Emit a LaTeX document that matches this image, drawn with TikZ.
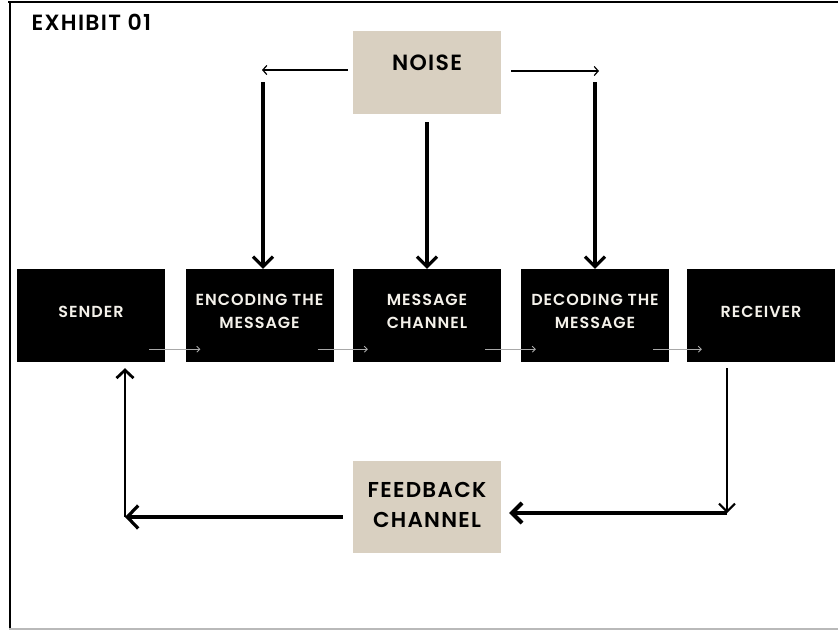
\documentclass[tikz,border=0pt]{standalone}
\usepackage{fontspec}
\setmainfont{Poppins}
\newfontfamily\boxfont{Poppins SemiBold}[LetterSpace=6]
\usetikzlibrary{arrows.meta}

\definecolor{sand}{HTML}{D9D0C1}
\definecolor{paper}{HTML}{F4F1EA}
\definecolor{faint}{HTML}{A8A8A8}

\begin{document}
\begin{tikzpicture}[x=1pt,y=-1pt,
  blk/.style={fill=black, minimum width=148pt, minimum height=93pt, inner sep=0pt},
  sandbox/.style={fill=sand, minimum width=148pt, inner sep=0pt},
  wlbl/.style={text=paper, align=center, font=\boxfont\fontsize{16}{23}\selectfont},
  dlbl/.style={text=black, align=center, font=\boxfont\fontsize{22}{30}\selectfont},
  big/.style={-{Straight Barb[length=10pt,width=20pt]}, line width=3.2pt},
  thin/.style={-{Straight Barb[length=4pt,width=9pt]}, line width=1.2pt},
  faintarr/.style={-{Straight Barb[length=3pt,width=6pt]}, draw=faint, line width=0.8pt}]
  \useasboundingbox (0,0) rectangle (838,630);
  % frame
  \draw [line width=2.2pt] (8,2) -- (838,2);
  \draw [line width=2pt] (9.5,1) -- (9.5,630);
  \draw [gray!55, line width=1.5pt] (9,628.8) -- (838,628.8);
  \node [anchor=west, font=\boxfont\fontsize{22}{24}\selectfont] (title) at (28,22) {EXHIBIT 01};

  % noise
  \node [sandbox, minimum height=83pt] (noise) at (427,72.5) {};
  \node [dlbl] (noiset) at (427,63) {NOISE};
  % row of steps
  \node [blk] (sender) at (91,315.5) {};
  \node [blk] (enc) at (259.5,315.5) {};
  \node [blk] (msg) at (427,315.5) {};
  \node [blk] (dec) at (595,315.5) {};
  \node [blk] (recv) at (761,315.5) {};
  \node [wlbl] (sendert) at (91,312) {SENDER};
  \node [wlbl] (enct) at (259.5,311.5) {ENCODING THE\\MESSAGE};
  \node [wlbl] (msgt) at (427,311.5) {MESSAGE\\CHANNEL};
  \node [wlbl] (dect) at (595,311.5) {DECODING THE\\MESSAGE};
  \node [wlbl] (recvt) at (761,312) {RECEIVER};
  % feedback
  \node [sandbox, minimum height=92pt] (fb) at (427,507) {};
  \node [dlbl, font=\boxfont\fontsize{21.5}{30}\selectfont] (fbt) at (427,505) {FEEDBACK\\CHANNEL};

  \coordinate (nl) at (262,70);
  \coordinate (nr) at (599,71);
  \coordinate (nld) at (263,82);
  \coordinate (nrd) at (595,82);
  \coordinate (nm) at (427,122);
  \coordinate (rc) at (727,513);
  \coordinate (sc) at (125,517);

  \draw [thin] ([xshift=-5pt]noise.west |- nl) -- (nl);
  \draw [thin] ([xshift=10pt]noise.east |- nr) -- (nr);
  \draw [big] (nld) -- (nld |- enc.north);
  \draw [big] (nm) -- (msg.north);
  \draw [big] (nrd) -- (nrd |- dec.north);

  \foreach \a/\b in {sender/enc, enc/msg, msg/dec, dec/recv}
    \draw [faintarr] ([xshift=-16pt,yshift=13pt]\a.south east) -- ([xshift=15pt,yshift=13pt]\b.south west);

  \draw [-{Straight Barb[length=8pt,width=16pt]}, line width=2pt] ([yshift=-6pt]rc |- recv.south) -- (rc);
  \draw [big, line width=4pt] (rc) -- ([xshift=8pt]fb.east |- rc);
  \draw [big, -{Straight Barb[length=11pt,width=23pt]}] ([xshift=-10pt]fb.west |- sc) -- (sc);
  \draw [big, line width=2.8pt, -{Straight Barb[length=8pt,width=17pt]}] (sc) -- ([yshift=-6pt]sc |- sender.south);
\end{tikzpicture}
\end{document}
